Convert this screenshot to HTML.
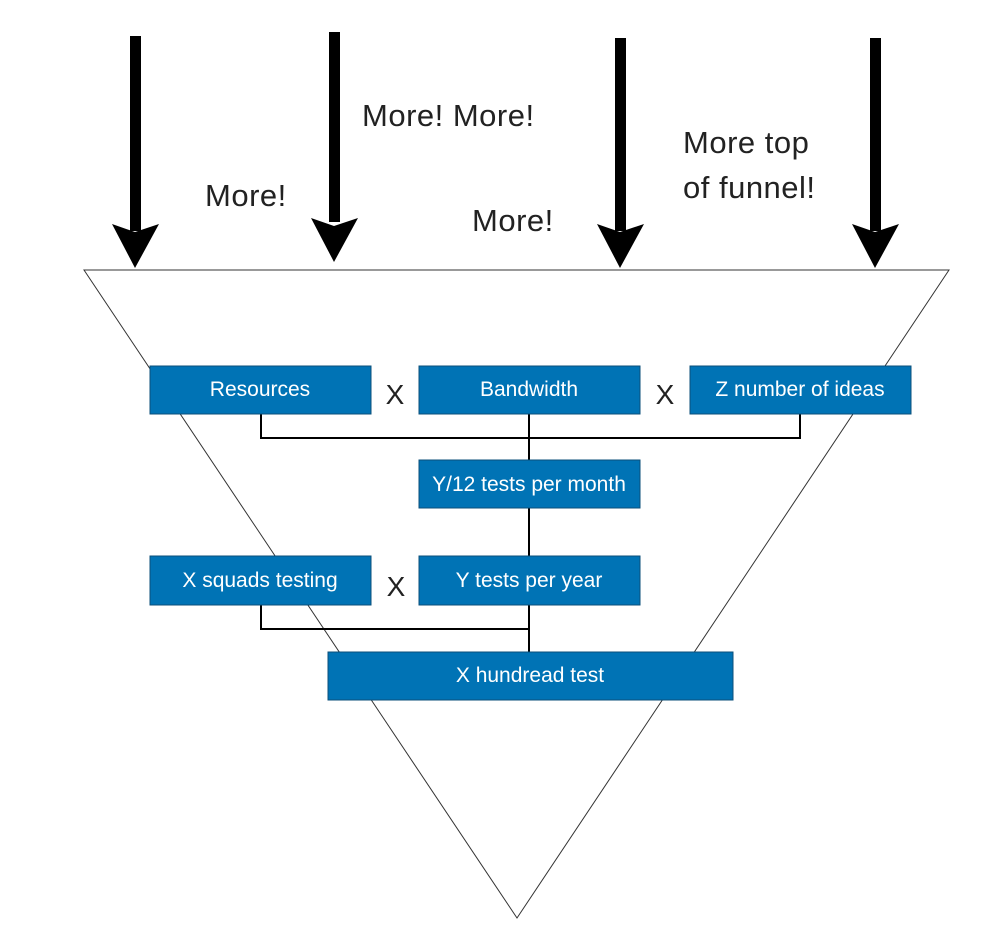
<!DOCTYPE html>
<html><head><style>body{margin:0;background:#fff}</style></head><body>
<svg width="1006" height="928" xmlns="http://www.w3.org/2000/svg" font-family="'Liberation Sans', sans-serif">
<rect width="1006" height="928" fill="#fff"/>
<polygon points="84,270 949,270 517,918" fill="none" stroke="#333" stroke-width="1"/>
<g fill="#000">
<rect x="130" y="36" width="11" height="195"/><polygon points="112,224 135,232 159,224 135,268"/>
<rect x="329" y="32" width="11" height="190"/><polygon points="311,218 334,226 358,218 334,262"/>
<rect x="615" y="38" width="11" height="193"/><polygon points="597,224 620,232 644,224 620,268"/>
<rect x="870" y="38" width="11" height="193"/><polygon points="852,224 875,232 899,224 875,268"/>
</g>
<g font-size="31" fill="#222" letter-spacing="0.5">
<text x="205" y="206">More!</text>
<text x="362" y="126">More! More!</text>
<text x="472" y="231">More!</text>
<text x="683" y="153">More top</text>
<text x="683" y="198">of funnel!</text>
</g>
<g fill="none" stroke="#000" stroke-width="2">
<path d="M261,414 V438 H800 V414"/><path d="M529,414 V460"/>
<path d="M529,508 V556"/>
<path d="M261,605 V629 H529"/><path d="M529,605 V652"/>
</g>
<g fill="#0073b5" stroke="#0b4f7a" stroke-width="1">
<rect x="150" y="366" width="221" height="48"/>
<rect x="419" y="366" width="221" height="48"/>
<rect x="690" y="366" width="221" height="48"/>
<rect x="419" y="460" width="221" height="48"/>
<rect x="150" y="556" width="221" height="49"/>
<rect x="419" y="556" width="221" height="49"/>
<rect x="328" y="652" width="405" height="48"/>
</g>
<g fill="#fff" font-size="21" text-anchor="middle">
<text x="260" y="396">Resources</text>
<text x="529" y="396">Bandwidth</text>
<text x="800" y="396">Z number of ideas</text>
<text x="529" y="491">Y/12 tests per month</text>
<text x="260" y="587">X squads testing</text>
<text x="529" y="587">Y tests per year</text>
<text x="530" y="682">X hundread test</text>
</g>
<g font-size="28" fill="#222" text-anchor="middle">
<text x="395" y="404">X</text>
<text x="665" y="404">X</text>
<text x="396" y="596">X</text>
</g>
</svg>
</body></html>
